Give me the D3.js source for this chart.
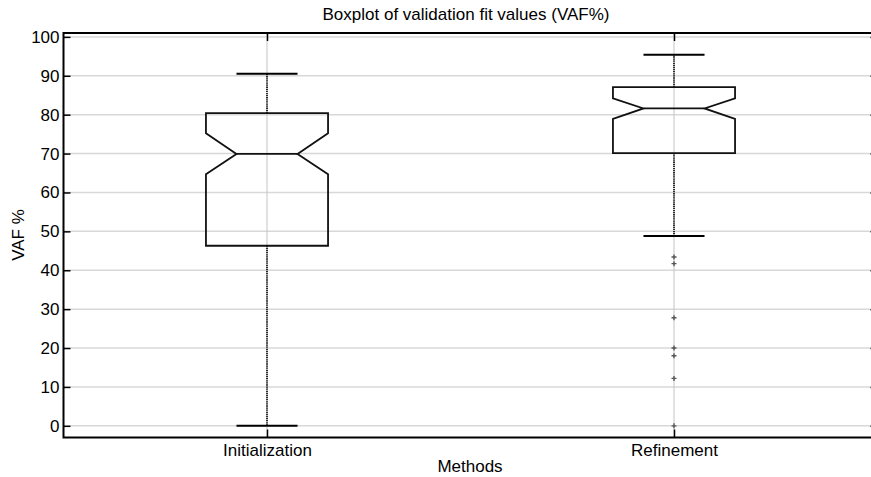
<!DOCTYPE html>
<html><head><meta charset="utf-8">
<script src="https://cdn.jsdelivr.net/npm/d3@7"></script>
<style>body{margin:0;background:#fff}svg{display:block}text{font-family:"Liberation Sans",Arial,sans-serif;fill:#000}</style>
</head><body><svg id="c" width="871" height="477"></svg>
<script>
const categories = ["Initialization", "Refinement"];
const q1 = [46.3, 70.1];
const median = [69.9, 81.6];
const q3 = [80.4, 87.1];
const notchLo = [64.7, 78.9];
const notchHi = [75.2, 84.2];
const whiskerLo = [0, 48.8];
const whiskerHi = [90.5, 95.4];
const outliers = [[], [43.4, 41.7, 27.8, 20.0, 18.0, 12.2, 0.0]];
const yTicks = [0, 10, 20, 30, 40, 50, 60, 70, 80, 90, 100];

const svg = d3.select("#c");
const L = 63.5, R = 877.5, T = 33, B = 437.5;
const x = d3.scaleLinear().domain([0.5, 2.5]).range([L, R]);
const y = d3.scaleLinear().domain([-3, 101]).range([B, T]);
const boxW = 0.15, capW = 0.075, notchW = 0.075;

// grid
const g = svg.append("g");
g.selectAll("line.hg").data(yTicks).join("line")
  .attr("x1", L).attr("x2", R).attr("y1", d => y(d)).attr("y2", d => y(d))
  .attr("stroke", "#d8d8d8").attr("stroke-width", 1.5);
g.selectAll("line.vg").data(categories).join("line")
  .attr("x1", (d, i) => x(i + 1)).attr("x2", (d, i) => x(i + 1))
  .attr("y1", T).attr("y2", B).attr("stroke", "#c4c4c4").attr("stroke-width", 1);

// axes
const yAxisL = d3.axisLeft(y).tickValues(yTicks).tickSize(-7).tickPadding(4);
const ga = svg.append("g").attr("transform", `translate(${L},0)`).call(yAxisL);
const yAxisR = d3.axisRight(y).tickValues(yTicks).tickSize(-7).tickFormat("");
const gr = svg.append("g").attr("transform", `translate(${R},0)`).call(yAxisR);
const xAxisB = d3.axisBottom(x).tickValues([1, 2]).tickFormat(d => categories[d - 1]).tickSize(-8).tickPadding(6);
const gb = svg.append("g").attr("transform", `translate(0,${B})`).call(xAxisB);
const xAxisT = d3.axisTop(x).tickValues([1, 2]).tickFormat("").tickSize(-8);
const gt = svg.append("g").attr("transform", `translate(0,${T})`).call(xAxisT);
[ga, gr, gb, gt].forEach(a => {
  a.select(".domain").remove();
  a.selectAll(".tick line").attr("stroke", "#000").attr("stroke-width", 1.5);
  a.selectAll(".tick text").style("font-size", "17px").attr("fill", "#000")
    .style("font-family", '"Liberation Sans",Arial,sans-serif');
});
gb.selectAll(".tick text").attr("dy", "0.71em");

// boxes
const bg = svg.append("g");
categories.forEach((c, i) => {
  const cx = i + 1;
  bg.append("line").attr("x1", x(cx)).attr("x2", x(cx)).attr("y1", y(q3[i])).attr("y2", y(whiskerHi[i]))
    .attr("stroke", "#000").attr("stroke-width", 1.6).attr("stroke-dasharray", "1.3,0.8");
  bg.append("line").attr("x1", x(cx)).attr("x2", x(cx)).attr("y1", y(q1[i])).attr("y2", y(whiskerLo[i]))
    .attr("stroke", "#000").attr("stroke-width", 1.6).attr("stroke-dasharray", "1.3,0.8");
  [whiskerHi[i], whiskerLo[i]].forEach(v => {
    bg.append("line").attr("x1", x(cx - capW)).attr("x2", x(cx + capW)).attr("y1", y(v)).attr("y2", y(v))
      .attr("stroke", "#000").attr("stroke-width", 2);
  });
  const pts = [
    [cx - boxW, q1[i]], [cx - boxW, notchLo[i]], [cx - notchW, median[i]], [cx - boxW, notchHi[i]],
    [cx - boxW, q3[i]], [cx + boxW, q3[i]], [cx + boxW, notchHi[i]], [cx + notchW, median[i]],
    [cx + boxW, notchLo[i]], [cx + boxW, q1[i]]
  ];
  bg.append("path").attr("d", d3.line().x(d => x(d[0])).y(d => y(d[1]))(pts) + "Z")
    .attr("fill", "none").attr("stroke", "#111").attr("stroke-width", 1.8).attr("stroke-linejoin", "miter");
  bg.append("line").attr("x1", x(cx - notchW)).attr("x2", x(cx + notchW)).attr("y1", y(median[i])).attr("y2", y(median[i]))
    .attr("stroke", "#111").attr("stroke-width", 1.8);
  outliers[i].forEach(v => {
    const px = x(cx), py = y(v), s = 2.5;
    bg.append("path").attr("d", `M${px - s},${py}H${px + s}M${px},${py - s}V${py + s}`)
      .attr("stroke", "#555").attr("stroke-width", 1.4).attr("fill", "none");
  });
});

// frame
svg.append("path").attr("d", `M${R},${T}H${L}V${B}H${R}`).attr("fill", "none").attr("stroke", "#000").attr("stroke-width", 2);

// labels
svg.append("text").attr("x", 466).attr("y", 20).attr("text-anchor", "middle").style("font-size", "17px")
  .text("Boxplot of validation fit values (VAF%)");
svg.append("text").attr("x", 470).attr("y", 472).attr("text-anchor", "middle").style("font-size", "17px").text("Methods");
svg.append("text").attr("transform", "translate(24,235) rotate(-90)").attr("text-anchor", "middle").style("font-size", "17px").text("VAF %");
</script></body></html>
